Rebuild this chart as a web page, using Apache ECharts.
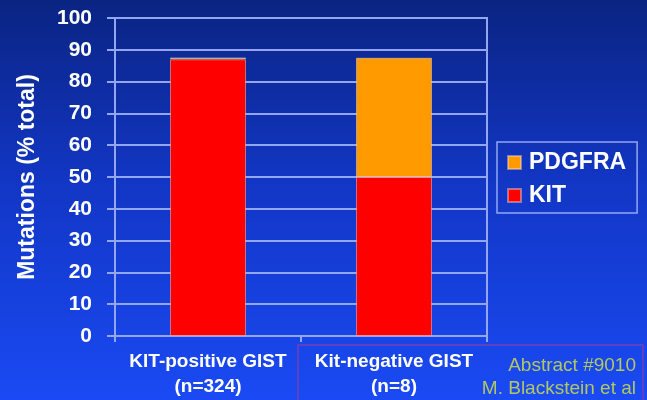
<!DOCTYPE html>
<html>
<head>
<meta charset="utf-8">
<script src="https://cdn.jsdelivr.net/npm/echarts@6/dist/echarts.min.js"></script>
<style>
  html, body { margin: 0; padding: 0; }
  #chart { width: 647px; height: 400px; }
</style>
</head>
<body>
<div id="chart"></div>
<script>
// Mutation share (% of total) by GIST group
const categories = ['KIT-positive GIST\n(n=324)', 'Kit-negative GIST\n(n=8)'];
const kitValues = [87, 50];
const pdgfraValues = [0.6, 37.5];
const yTicks = { min: 0, max: 100, interval: 10 };
const sourceLines = ['Abstract #9010', 'M. Blackstein et al'];

const chart = echarts.init(document.getElementById('chart'));
const FONT = '"Liberation Sans", Arial, sans-serif';
const GRID_LINE = '#93a6f2';
const SOURCE_COLOR = '#b2c760';

chart.setOption({
  backgroundColor: {
    type: 'linear', x: 0, y: 0, x2: 0, y2: 1,
    colorStops: [
      { offset: 0, color: '#0a2482' },
      { offset: 0.45, color: '#1236c4' },
      { offset: 1, color: '#1a4af4' }
    ]
  },
  animation: false,
  grid: {
    left: 115, right: 160, top: 18, bottom: 64,
    show: true, borderColor: GRID_LINE, borderWidth: 2
  },
  legend: {
    data: ['PDGFRA', 'KIT'],
    orient: 'vertical',
    left: 497, top: 142,
    padding: [9, 11, 6, 10],
    itemGap: 10,
    itemWidth: 13, itemHeight: 13,
    icon: 'rect',
    borderColor: GRID_LINE, borderWidth: 1.5,
    textStyle: { color: '#ffffff', fontFamily: FONT, fontWeight: 'bold', fontSize: 23, padding: [0, 0, 0, 3] }
  },
  xAxis: {
    type: 'category',
    data: categories,
    axisLine: { lineStyle: { color: GRID_LINE, width: 2 } },
    axisTick: { show: true, length: 6, lineStyle: { color: GRID_LINE, width: 2 } },
    axisLabel: {
      interval: 0,
      color: '#ffffff', fontFamily: FONT, fontWeight: 'bold', fontSize: 19,
      lineHeight: 25, margin: 13
    }
  },
  yAxis: {
    type: 'value',
    min: yTicks.min, max: yTicks.max, interval: yTicks.interval,
    name: 'Mutations (% total)',
    nameLocation: 'middle',
    nameGap: 76,
    nameTextStyle: { color: '#ffffff', fontFamily: FONT, fontWeight: 'bold', fontSize: 23 },
    axisLine: { show: true, lineStyle: { color: GRID_LINE, width: 2 } },
    axisTick: { show: true, length: 8, lineStyle: { color: GRID_LINE, width: 2 } },
    axisLabel: { color: '#ffffff', fontFamily: FONT, fontWeight: 'bold', fontSize: 21, margin: 23 },
    splitLine: { lineStyle: { color: GRID_LINE, width: 2 } }
  },
  series: [
    {
      name: 'KIT', type: 'bar', stack: 'mut', data: kitValues,
      barWidth: 76,
      itemStyle: { color: '#ff0000', borderColor: 'rgba(255,220,200,0.45)', borderWidth: 1 }
    },
    {
      name: 'PDGFRA', type: 'bar', stack: 'mut', data: pdgfraValues,
      barWidth: 76,
      itemStyle: { color: '#ff9a00', borderColor: 'rgba(255,220,200,0.45)', borderWidth: 1 }
    }
  ],
  graphic: [
    {
      type: 'polyline',
      shape: { points: [[298, 400], [298, 345], [643, 345], [643, 400]] },
      style: { stroke: '#7440b4', lineWidth: 1.5, fill: null }
    },
    {
      type: 'text', x: 636, y: 366,
      style: {
        text: sourceLines[0], fill: SOURCE_COLOR, align: 'right', verticalAlign: 'middle',
        font: '19px ' + FONT
      }
    },
    {
      type: 'text', x: 636, y: 389,
      style: {
        text: sourceLines[1], fill: SOURCE_COLOR, align: 'right', verticalAlign: 'middle',
        font: '19px ' + FONT
      }
    }
  ]
});
</script>
</body>
</html>
